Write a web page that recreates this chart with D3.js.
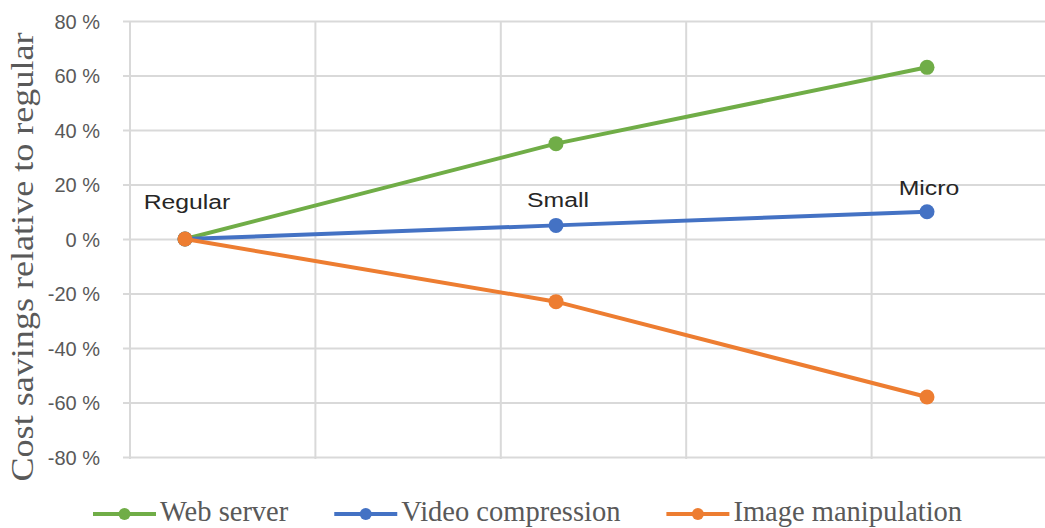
<!DOCTYPE html>
<html>
<head>
<meta charset="utf-8">
<script src="https://cdn.jsdelivr.net/npm/d3@7"></script>
<style>
  html, body { margin: 0; padding: 0; background: #fff; }
  svg { display: block; }
</style>
</head>
<body>
<script>
// Instance sizes along the x axis
const sizes = ["Regular", "Small", "Micro"];
// Workload series (cost savings relative to the regular instance)
const seriesNames = ["Web server", "Video compression", "Image manipulation"];
const webServer = [0, 0.35, 0.63];
const videoCompression = [0, 0.05, 0.10];
const imageManipulation = [0, -0.23, -0.58];
const yTicks = [-0.8, -0.6, -0.4, -0.2, 0, 0.2, 0.4, 0.6, 0.8];
const yTitle = "Cost savings relative to regular";

const W = 1045, H = 528;
const colors = ["#70ad47", "#4472c4", "#ed7d31"];
const seriesValues = [webServer, videoCompression, imageManipulation];

const svg = d3.select("body").append("svg")
  .attr("width", W).attr("height", H);
svg.append("rect").attr("width", W).attr("height", H).attr("fill", "#fff");

// Plot area (runs past the right edge of the page)
const plotLeft = 130, plotRight = 1057, plotTop = 21, plotBottom = 457;

const x = d3.scaleLinear().domain([0, sizes.length - 1]).range([185, 927]);
const y = d3.scaleLinear().domain([-0.8, 0.8]).range([plotBottom, plotTop]);

// Vertical gridlines: five equal bands across the plot
const vCount = 5;
const vLines = d3.range(vCount + 1).map(k => plotLeft + k * (plotRight - plotLeft) / vCount);
svg.append("g").selectAll("line").data(vLines).join("line")
  .attr("x1", d => d).attr("x2", d => d)
  .attr("y1", plotTop).attr("y2", plotBottom + 2)
  .attr("stroke", "#d9d9d9").attr("stroke-width", 2);

// Y axis with gridlines and percent labels
const yAxis = d3.axisLeft(y)
  .tickValues(yTicks)
  .tickSize(-(plotRight - plotLeft) - 7)
  .tickPadding(23)
  .tickFormat(d => `${Math.round(d * 100)} %`);
const gy = svg.append("g")
  .attr("transform", `translate(${plotLeft - 7},0)`)
  .call(yAxis);
gy.select(".domain").remove();
gy.selectAll(".tick line")
  .attr("stroke", "#d9d9d9").attr("stroke-width", 2)
  .attr("x1", 0).attr("x2", plotRight - plotLeft + 7);
gy.selectAll(".tick text")
  .attr("x", -23)
  .attr("fill", "#595959")
  .attr("font-family", "'Liberation Sans', Arial, sans-serif")
  .attr("font-size", 20)
  .attr("dy", "0.35em");

// Y axis title
svg.append("text")
  .attr("transform", `translate(33,257) rotate(-90)`)
  .attr("text-anchor", "middle")
  .attr("font-family", "'Liberation Serif', 'Times New Roman', serif")
  .attr("font-size", 31)
  .attr("fill", "#595959")
  .attr("textLength", 449)
  .attr("lengthAdjust", "spacingAndGlyphs")
  .text(yTitle);

// Series lines and markers
const line = d3.line().x((d, i) => x(i)).y(d => y(d));
seriesValues.forEach((vals, s) => {
  const g = svg.append("g");
  g.append("path")
    .attr("d", line(vals))
    .attr("fill", "none")
    .attr("stroke", colors[s])
    .attr("stroke-width", 4)
    .attr("stroke-linejoin", "round");
  g.selectAll("circle").data(vals).join("circle")
    .attr("cx", (d, i) => x(i))
    .attr("cy", d => y(d))
    .attr("r", 7.5)
    .attr("fill", colors[s]);
});

// Size labels, placed above the video-compression points
const labelLift = [30, 18, 17];
svg.append("g").selectAll("text").data(sizes).join("text")
  .attr("transform", (d, i) => `translate(${x(i) + 2},${y(videoCompression[i]) - labelLift[i]}) scale(1.18,1)`)
  .attr("text-anchor", "middle")
  .attr("font-family", "'Liberation Sans', Arial, sans-serif")
  .attr("font-size", 21)
  .attr("fill", "#262626")
  .text(d => d);

// Legend along the bottom
const legend = svg.append("g").attr("transform", "translate(93,514)");
let cursor = 0;
seriesNames.forEach((name, s) => {
  const item = legend.append("g").attr("transform", `translate(${cursor},0)`);
  item.append("line")
    .attr("x1", 0).attr("x2", 63).attr("y1", 0).attr("y2", 0)
    .attr("stroke", colors[s]).attr("stroke-width", 4);
  item.append("circle")
    .attr("cx", 31.5).attr("cy", 0).attr("r", 6)
    .attr("fill", colors[s]);
  const t = item.append("text")
    .attr("x", 67).attr("y", 7)
    .attr("font-family", "'Liberation Serif', 'Times New Roman', serif")
    .attr("font-size", 28.5)
    .attr("fill", "#595959")
    .text(name);
  cursor += 67 + t.node().getComputedTextLength() + 46;
});
</script>
</body>
</html>
